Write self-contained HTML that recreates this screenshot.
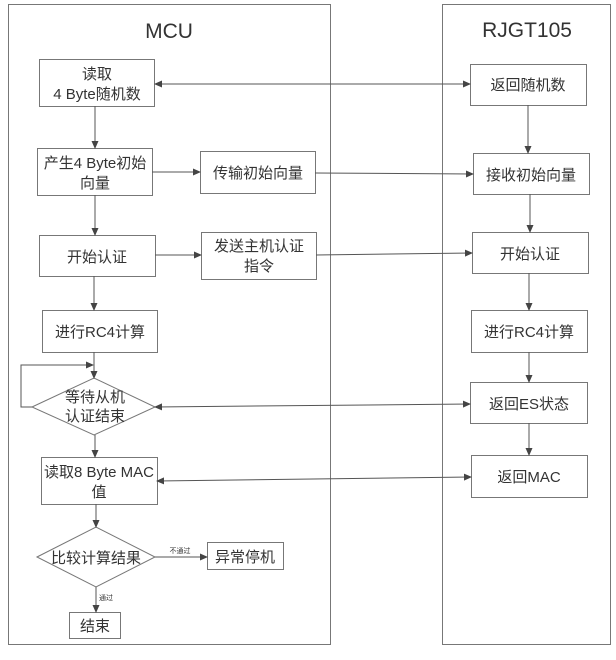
<!DOCTYPE html>
<html><head><meta charset="utf-8"><style>
body{margin:0;background:#fff}
text{font-family:"Liberation Sans","Noto Sans CJK SC",sans-serif;fill:#333;font-size:15px}
</style></head><body>
<svg width="616" height="655" viewBox="0 0 616 655" xmlns="http://www.w3.org/2000/svg">
<defs><marker id="a" markerWidth="8" markerHeight="8" refX="7" refY="4" orient="auto-start-reverse" markerUnits="userSpaceOnUse"><path d="M0,0.5 L8,4 L0,7.5 z" fill="#444"/></marker></defs>
<g fill="none" stroke="#777" stroke-width="1">
<rect x="8.5" y="4.5" width="322" height="640"/>
<rect x="442.5" y="4.5" width="168" height="640"/>
</g>
<text x="169" y="38" text-anchor="middle" style="font-size:21px">MCU</text>
<text x="527" y="37" text-anchor="middle" style="font-size:21px">RJGT105</text>
<g fill="#fff" stroke="#777" stroke-width="1">
<rect x="39.5" y="59.5" width="115" height="47"/>
<rect x="470.5" y="64.5" width="116" height="41"/>
<rect x="37.5" y="148.5" width="115" height="47"/>
<rect x="200.5" y="151.5" width="115" height="42"/>
<rect x="473.5" y="153.5" width="116" height="41"/>
<rect x="39.5" y="235.5" width="116" height="41"/>
<rect x="201.5" y="232.5" width="115" height="47"/>
<rect x="472.5" y="232.5" width="116" height="41"/>
<rect x="42.5" y="310.5" width="115" height="42"/>
<rect x="471.5" y="310.5" width="116" height="42"/>
<polygon points="32,407 94,378 155,407 94,435"/>
<rect x="470.5" y="382.5" width="117" height="41"/>
<rect x="41.5" y="457.5" width="116" height="47"/>
<rect x="471.5" y="455.5" width="116" height="42"/>
<polygon points="37,557 96,527 155,557 96,587"/>
<rect x="207.5" y="542.5" width="76" height="27"/>
<rect x="69.5" y="612.5" width="51" height="26"/>
</g>
<g stroke="#555" stroke-width="1" fill="none" marker-end="url(#a)">
<line x1="95" y1="106" x2="95" y2="148"/>
<line x1="95" y1="195" x2="95" y2="235"/>
<line x1="94" y1="276" x2="94" y2="310"/>
<line x1="94" y1="352" x2="94" y2="378"/>
<line x1="95" y1="435" x2="95" y2="457"/>
<line x1="96" y1="504" x2="96" y2="527"/>
<line x1="96" y1="587" x2="96" y2="612"/>
<line x1="155" y1="557" x2="207" y2="557"/>
<polyline points="32,407 21,407 21,365 93,365"/>
<line x1="152" y1="172" x2="200" y2="172"/>
<line x1="155" y1="255" x2="201" y2="255"/>
<line x1="315" y1="173" x2="473" y2="174"/>
<line x1="316" y1="255" x2="472" y2="253"/>
<line x1="528" y1="105" x2="528" y2="153"/>
<line x1="530" y1="194" x2="530" y2="232"/>
<line x1="529" y1="273" x2="529" y2="310"/>
<line x1="529" y1="352" x2="529" y2="382"/>
<line x1="529" y1="423" x2="529" y2="455"/>
<line x1="155" y1="84" x2="470" y2="84" marker-start="url(#a)"/>
<line x1="155" y1="407" x2="470" y2="404" marker-start="url(#a)"/>
<line x1="157" y1="481" x2="471" y2="477" marker-start="url(#a)"/>
</g>
<g text-anchor="middle">
<text x="97" y="79">读取</text>
<text x="97" y="99">4 Byte随机数</text>
<text x="528" y="90">返回随机数</text>
<text x="95" y="168">产生4 Byte初始</text>
<text x="95" y="188">向量</text>
<text x="258" y="178">传输初始向量</text>
<text x="531" y="180">接收初始向量</text>
<text x="97" y="262">开始认证</text>
<text x="259" y="251">发送主机认证</text>
<text x="259" y="271">指令</text>
<text x="530" y="259">开始认证</text>
<text x="100" y="337">进行RC4计算</text>
<text x="529" y="337">进行RC4计算</text>
<text x="95" y="402">等待从机</text>
<text x="95" y="421">认证结束</text>
<text x="529" y="409">返回ES状态</text>
<text x="99" y="477">读取8 Byte MAC</text>
<text x="99" y="497">值</text>
<text x="529" y="482">返回MAC</text>
<text x="96" y="563">比较计算结果</text>
<text x="245" y="562">异常停机</text>
<text x="95" y="631">结束</text>
<text x="180" y="553" style="font-size:7px">不通过</text>
<text x="106" y="600" style="font-size:7px">通过</text>
</g>
</svg>
</body></html>
